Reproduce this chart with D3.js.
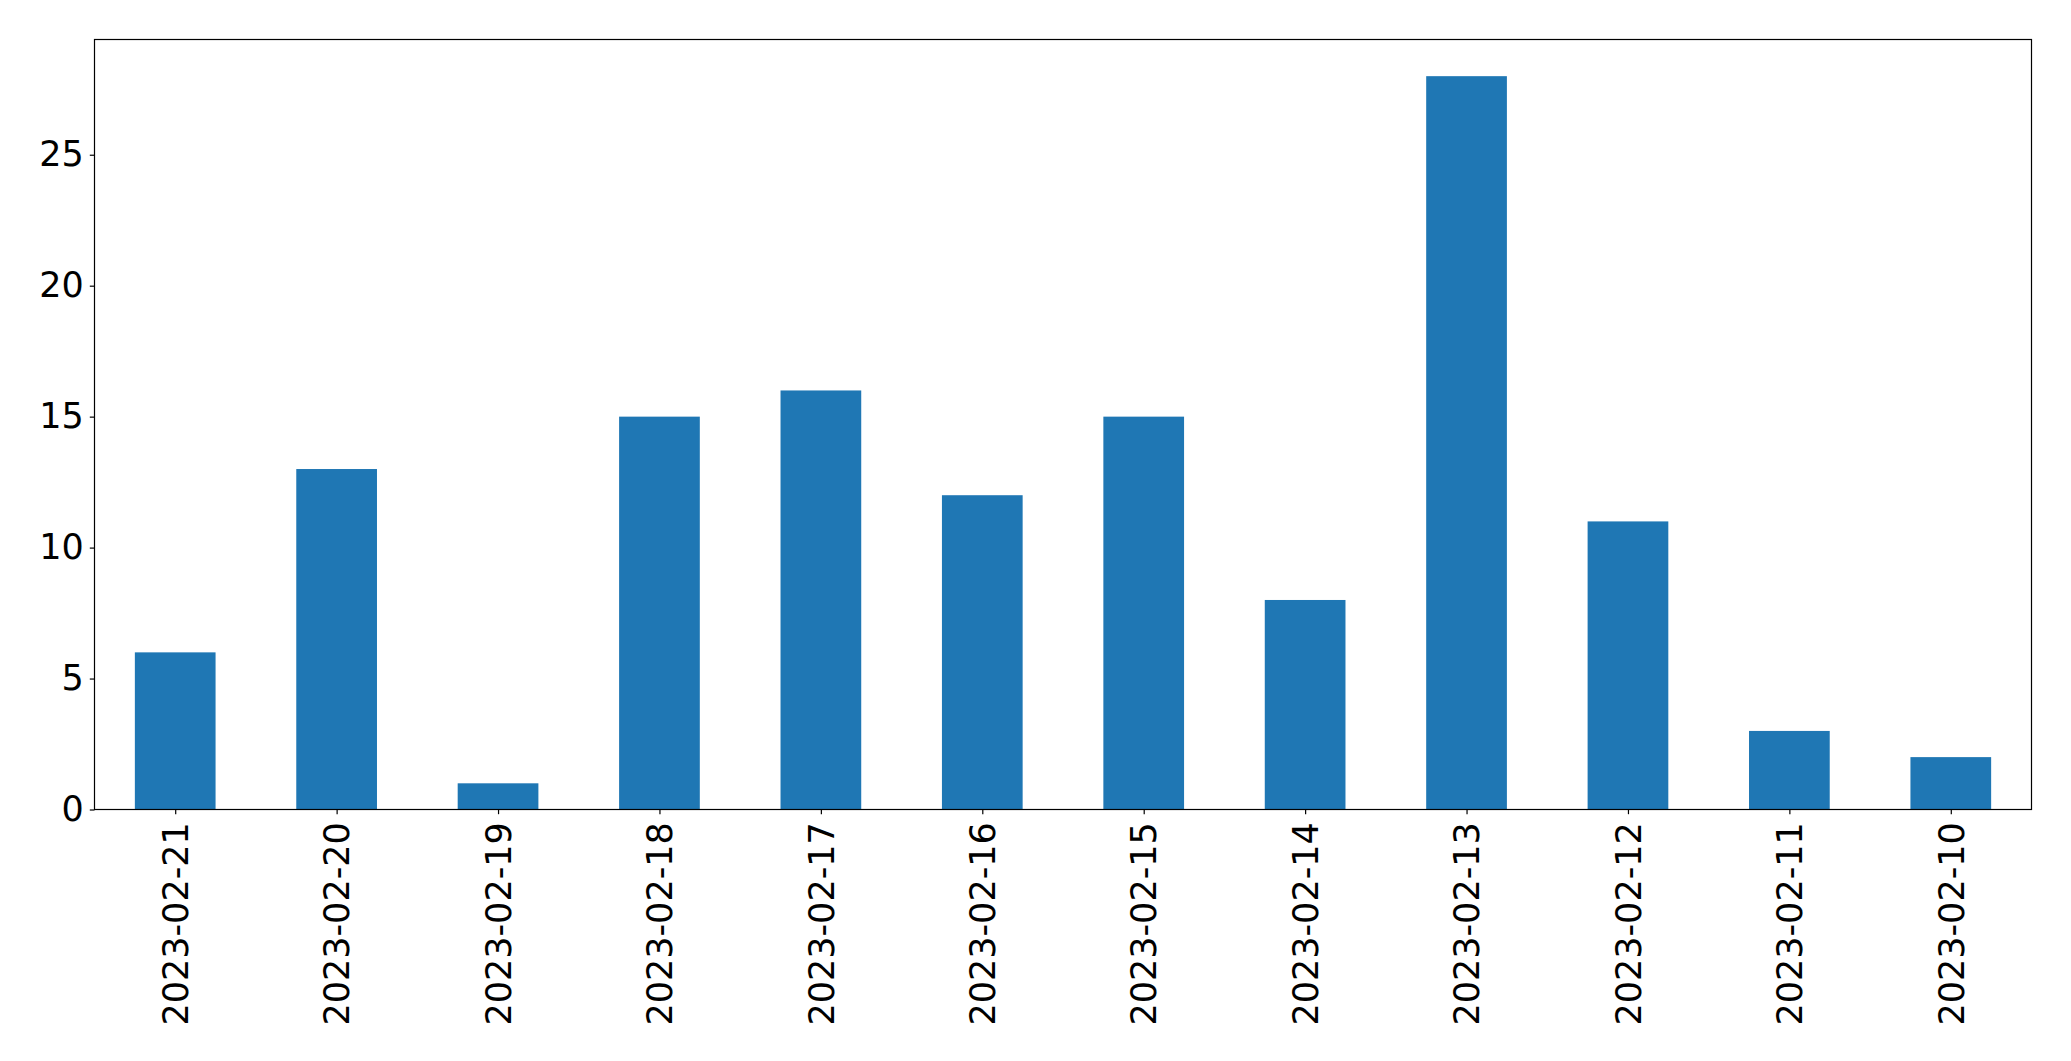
<!DOCTYPE html>
<html>
<head>
<meta charset="utf-8">
<script src="https://cdn.jsdelivr.net/npm/d3@7"></script>
<style>
html,body{margin:0;padding:0;background:#fff;}
svg{display:block;}
text{font-family:"DejaVu Sans",sans-serif;fill:#000;}
</style>
</head>
<body>
<svg id="chart" width="2071" height="1061"></svg>
<script>
const categories = ["2023-02-21","2023-02-20","2023-02-19","2023-02-18","2023-02-17","2023-02-16","2023-02-15","2023-02-14","2023-02-13","2023-02-12","2023-02-11","2023-02-10"];
const values = [6, 13, 1, 15, 16, 12, 15, 8, 28, 11, 3, 2];
const yTicks = [0, 5, 10, 15, 20, 25];

const W = 2071, H = 1061;
const m = {left: 94.5, right: 2031.5, top: 39.5, bottom: 809.5};
const fontSize = 35;
const tickLen = 4.7;

const svg = d3.select("#chart");

const x = d3.scaleLinear().domain([-0.5, categories.length - 0.5]).range([m.left, m.right]);
const yMax = d3.max(values) * 1.05;
const y = d3.scaleLinear().domain([0, yMax]).range([m.bottom, m.top]);
const barW = 0.5;

svg.append("g").selectAll("rect").data(values).join("rect")
  .attr("x", (d, i) => x(i - barW / 2))
  .attr("width", (d, i) => x(i + barW / 2) - x(i - barW / 2))
  .attr("y", d => y(d))
  .attr("height", d => y(0) - y(d))
  .attr("fill", "#1f77b4");

// frame
svg.append("rect")
  .attr("x", m.left).attr("y", m.top)
  .attr("width", m.right - m.left).attr("height", m.bottom - m.top)
  .attr("fill", "none").attr("stroke", "#000").attr("stroke-width", 1.2);

// y axis
const yAxis = d3.axisLeft(y).tickValues(yTicks).tickSize(tickLen).tickPadding(6).tickFormat(d3.format("d"));
const gy = svg.append("g").attr("transform", `translate(${m.left},0)`).call(yAxis);
gy.select(".domain").remove();
gy.selectAll(".tick line").attr("stroke", "#000").attr("stroke-width", 1.2);
gy.selectAll(".tick text").attr("font-size", fontSize).attr("font-family", "DejaVu Sans").attr("fill", "#000");

// x axis
const xAxis = d3.axisBottom(x).tickValues(d3.range(categories.length)).tickSize(tickLen).tickFormat(i => categories[i]);
const gx = svg.append("g").attr("transform", `translate(0,${m.bottom})`).call(xAxis);
gx.select(".domain").remove();
gx.selectAll(".tick line").attr("stroke", "#000").attr("stroke-width", 1.2);
gx.selectAll(".tick text")
  .attr("font-size", fontSize).attr("font-family", "DejaVu Sans").attr("fill", "#000")
  .attr("transform", "rotate(-90)")
  .attr("text-anchor", "end")
  .attr("x", -(tickLen + 8))
  .attr("y", 0)
  .attr("dy", "0.35em");
</script>
</body>
</html>
